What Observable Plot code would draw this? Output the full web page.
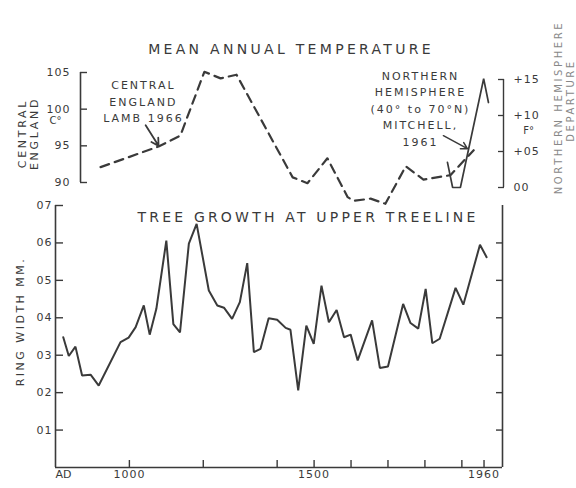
<!DOCTYPE html>
<html>
<head>
<meta charset="utf-8">
<script src="https://cdn.jsdelivr.net/npm/d3@7"></script>
<script src="https://cdn.jsdelivr.net/npm/@observablehq/plot@0.6"></script>
<style>
  html, body { margin: 0; padding: 0; background: #ffffff; }
  #chart { position: relative; width: 576px; height: 488px; overflow: hidden; }
  #chart svg { position: absolute; left: 0; top: 0; background: transparent; }
</style>
</head>
<body>
<div id="chart"></div>
<script>
// ---------------- data ----------------
// Tree growth at upper treeline: ring width (mm)
const ringYears = [821, 836, 854, 872, 895, 917, 976, 998, 1017, 1039, 1055, 1073, 1100, 1119, 1137, 1161, 1182, 1215, 1238, 1256, 1278, 1299, 1319, 1337, 1355, 1377, 1400, 1423, 1436, 1457, 1479, 1499, 1520, 1540, 1561, 1581, 1599, 1618, 1657, 1678, 1700, 1741, 1761, 1782, 1802, 1820, 1840, 1883, 1904, 1949, 1967];
const ringWidth = [0.348, 0.298, 0.323, 0.246, 0.248, 0.219, 0.335, 0.347, 0.375, 0.433, 0.355, 0.424, 0.606, 0.383, 0.361, 0.598, 0.651, 0.473, 0.433, 0.427, 0.397, 0.442, 0.546, 0.308, 0.317, 0.399, 0.395, 0.373, 0.368, 0.206, 0.379, 0.330, 0.486, 0.388, 0.421, 0.348, 0.355, 0.286, 0.393, 0.266, 0.270, 0.437, 0.386, 0.371, 0.477, 0.332, 0.344, 0.480, 0.435, 0.595, 0.562];

// Central England mean annual temperature (°C), Lamb 1966
const englandYears = [922, 1079, 1138, 1203, 1247, 1290, 1442, 1482, 1536, 1591, 1607, 1653, 1693, 1748, 1796, 1869, 1932];
const englandTemp = [9.21, 9.49, 9.64, 10.51, 10.42, 10.47, 9.07, 8.99, 9.33, 8.80, 8.75, 8.78, 8.71, 9.22, 9.04, 9.10, 9.44];

// Northern Hemisphere (40°-70°N) departure (F°), Mitchell 1961
const mitchellYears = [1861, 1875, 1896, 1959, 1972];
const mitchellDep = [0.35, 0.0, 0.0, 1.51, 1.18];

// axes
const xDomain = [800, 2010];
const yearTicks = [1000, 1200, 1400, 1500, 1600, 1700, 1800, 1900, 1960];
const yearLabelTicks = [1000, 1500, 1960];
const yearTickLabels = ["1000", "1500", "1960"];
const originLabel = "AD";
const ringTicks = [0.1, 0.2, 0.3, 0.4, 0.5, 0.6, 0.7];
const ringTickLabels = ["01", "02", "03", "04", "05", "06", "07"];
const ringRightTicks = [0.1, 0.2, 0.3, 0.4, 0.5, 0.6];
const tempTicks = [9.0, 9.5, 10.0, 10.5];
const tempTickLabels = ["90", "95", "100", "105"];
const depTicks = [0.0, 0.5, 1.0, 1.5];
const depTickLabels = ["00", "+05", "+10", "+15"];

// texts
const titleTop = "MEAN ANNUAL TEMPERATURE";
const titleBottom = "TREE GROWTH AT UPPER TREELINE";
const ringAxisLabel = "RING WIDTH MM.";
const tempAxisLabel = "CENTRAL\nENGLAND";
const tempUnit = "C°";
const depUnit = "F°";
const depAxisLabel1 = "NORTHERN HEMISPHERE";
const depAxisLabel2 = "DEPARTURE";
const lambNote = [{year: 1038, temp: 10.12, text: "CENTRAL\nENGLAND\nLAMB 1966"}];
const lambArrow = [{year1: 1044, temp1: 9.78, year2: 1079, temp2: 9.50}];
const mitchellNote = [{year: 1788, dep: 1.11, text: "NORTHERN\nHEMISPHERE\n(40° to 70°N)\nMITCHELL,\n1961"}];
const mitchellArrow = [{year1: 1850, dep1: 0.72, year2: 1915, dep2: 0.54}];

// ---------------- build ----------------
const ring = ringYears.map((year, i) => ({year, width: ringWidth[i]}));
const england = englandYears.map((year, i) => ({year, temp: englandTemp[i]}));
const mitchell = mitchellYears.map((year, i) => ({year, dep: mitchellDep[i]}));
const lookup = (ticks, labels) => (d) => labels[ticks.indexOf(d)] ?? "";
const blank = () => "";

const INK = "#3a3a3a";
const FONT = "DejaVu Sans, sans-serif";
const W = 576, H = 488;
const base = {
  width: W, height: H, marginLeft: 55, marginRight: 74,
  style: {background: "transparent", color: INK, fontFamily: FONT, fontSize: "11px", overflow: "visible"}
};

// bottom panel: ring width
const bottom = Plot.plot({
  ...base,
  marginTop: 205, marginBottom: 21,
  x: {domain: xDomain},
  y: {domain: [0, 0.7]},
  marks: [
    Plot.ruleX([xDomain[0], xDomain[1]], {y1: 0, y2: d3.max(ringTicks), stroke: INK, strokeWidth: 1.6}),
    Plot.ruleY([0], {x1: xDomain[0], x2: xDomain[1], stroke: INK, strokeWidth: 1.6}),
    // left: inward ticks + labels
    Plot.axisY({ticks: ringTicks, tickSize: 8, dx: 8, label: null, strokeWidth: 1.4, tickFormat: blank}),
    Plot.axisY({ticks: ringTicks, tickSize: 0, tickPadding: 3, label: null, tickFormat: lookup(ringTicks, ringTickLabels)}),
    // right: inward ticks only
    Plot.axisY({anchor: "right", ticks: ringRightTicks, tickSize: 7, dx: -7, label: null, strokeWidth: 1.4, tickFormat: blank}),
    // bottom: inward ticks + labels
    Plot.axisX({ticks: yearTicks, tickSize: 7, dy: -7, label: null, strokeWidth: 1.4, tickFormat: blank}),
    Plot.axisX({ticks: yearLabelTicks, tickSize: 0, tickPadding: 3, label: null, tickFormat: lookup(yearLabelTicks, yearTickLabels)}),
    Plot.text([originLabel], {frameAnchor: "bottom-left", textAnchor: "start", lineAnchor: "top", dy: 3, fontSize: 11}),
    Plot.line(ring, {x: "year", y: "width", stroke: INK, strokeWidth: 2, strokeLinejoin: "miter"}),
    Plot.text([titleBottom], {frameAnchor: "top", textAnchor: "middle", dx: 29, dy: 7, fontSize: 14}),
    Plot.text([ringAxisLabel], {frameAnchor: "left", textAnchor: "middle", rotate: -90, dx: -35, dy: -15, fontSize: 11})
  ]
});

// top panel: Central England (°C)
const topC = Plot.plot({
  ...base,
  marginTop: 72, marginBottom: H - 182,
  x: {domain: xDomain, axis: null},
  y: {domain: [9.0, 10.5]},
  marks: [
    Plot.ruleX([xDomain[0]], {y1: d3.min(tempTicks), y2: d3.max(tempTicks), dx: 25, stroke: INK, strokeWidth: 1.6}),
    Plot.axisY({ticks: tempTicks, tickSize: 7, dx: 32, label: null, strokeWidth: 1.4, tickFormat: blank}),
    Plot.axisY({ticks: tempTicks, tickSize: 0, tickPadding: 10, dx: 25, label: null, tickFormat: lookup(tempTicks, tempTickLabels)}),
    Plot.line(england, {x: "year", y: "temp", stroke: INK, strokeWidth: 2.2, strokeDasharray: "9,6"}),
    Plot.arrow(lambArrow, {x1: "year1", y1: "temp1", x2: "year2", y2: "temp2", stroke: INK, strokeWidth: 1.8, headLength: 7}),
    Plot.text(lambNote, {x: "year", y: "temp", text: "text", fontSize: 11, lineHeight: 1.5}),
    Plot.text([titleTop], {frameAnchor: "top", textAnchor: "middle", dx: 12, dy: -28, fontSize: 14}),
    Plot.text([tempAxisLabel], {frameAnchor: "left", textAnchor: "middle", rotate: -90, dx: -27, dy: 6, fontSize: 11, lineHeight: 1.1}),
    Plot.text([tempUnit], {frameAnchor: "left", textAnchor: "middle", dy: -7, fontSize: 10})
  ]
});

// top panel: Northern Hemisphere departure (F°)
const topF = Plot.plot({
  ...base,
  marginTop: 79, marginBottom: H - 187,
  x: {domain: xDomain, axis: null},
  y: {domain: [0, 1.5]},
  marks: [
    Plot.ruleX([xDomain[1]], {y1: d3.min(depTicks), y2: d3.max(depTicks), dx: 1, stroke: INK, strokeWidth: 1.4}),
    Plot.axisY({anchor: "right", ticks: depTicks, tickSize: 6, dx: -5, label: null, strokeWidth: 1.3, tickFormat: blank}),
    Plot.axisY({anchor: "right", ticks: depTicks, tickSize: 0, tickPadding: 10, dx: 1, label: null, tickFormat: lookup(depTicks, depTickLabels)}),
    Plot.line(mitchell, {x: "year", y: "dep", stroke: INK, strokeWidth: 1.7, strokeLinejoin: "miter"}),
    Plot.arrow(mitchellArrow, {x1: "year1", y1: "dep1", x2: "year2", y2: "dep2", stroke: INK, strokeWidth: 1.5, headLength: 7}),
    Plot.text(mitchellNote, {x: "year", y: "dep", text: "text", fontSize: 11, lineHeight: 1.5}),
    Plot.text([depUnit], {frameAnchor: "right", textAnchor: "middle", dx: 26, dy: -3, fontSize: 10}),
    Plot.text([depAxisLabel1], {frameAnchor: "right", textAnchor: "middle", rotate: -90, dx: 56, dy: -26, fontSize: 10, fill: "#888"}),
    Plot.text([depAxisLabel2], {frameAnchor: "right", textAnchor: "middle", rotate: -90, dx: 68, dy: -33, fontSize: 10, fill: "#888"})
  ]
});

const chart = document.getElementById("chart");
[bottom, topC, topF].forEach((svg) => chart.appendChild(svg));

// letter spacing of the stencil-like lettering, matched by text content
const spacing = new Map([
  [titleTop, 3.3], [titleBottom, 3.2], [ringAxisLabel, 2.5], [tempAxisLabel, 2.7],
  [depAxisLabel1, 2.6], [depAxisLabel2, 2.6],
  [lambNote[0].text, 2], [mitchellNote[0].text, 2]
]);
const spacingFlat = new Map([...spacing].map(([k, v]) => [k.replace(/\n/g, ""), v]));
d3.select(chart).selectAll("text").each(function () {
  const s = spacingFlat.get(this.textContent);
  if (s != null) this.setAttribute("letter-spacing", s);
});
d3.select(chart).selectAll('g[aria-label="y-axis tick label"] text, g[aria-label="x-axis tick label"] text').attr("letter-spacing", 1);
</script>
</body>
</html>
